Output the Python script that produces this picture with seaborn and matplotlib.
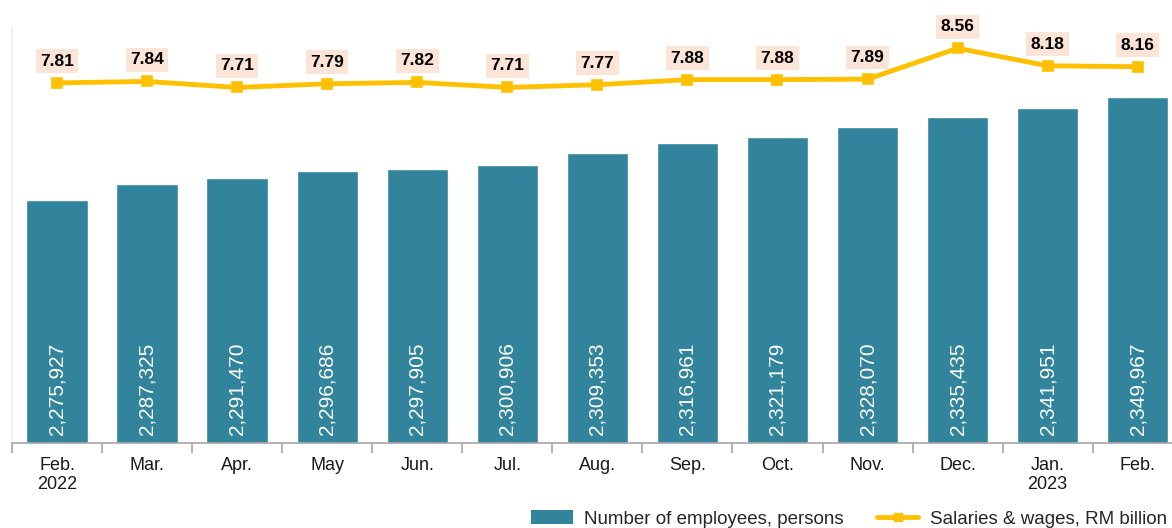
import numpy as np
import pandas as pd
import matplotlib
matplotlib.use("Agg")
import matplotlib.pyplot as plt
from matplotlib.lines import Line2D
from matplotlib.patches import Patch
import seaborn as sns

# ---- data ------------------------------------------------------------
months = ["Feb.\n2022", "Mar.", "Apr.", "May", "Jun.", "Jul.", "Aug.",
          "Sep.", "Oct.", "Nov.", "Dec.", "Jan.\n2023", "Feb."]
employees = [2275927, 2287325, 2291470, 2296686, 2297905, 2300906, 2309353,
             2316961, 2321179, 2328070, 2335435, 2341951, 2349967]
salaries = [7.81, 7.84, 7.71, 7.79, 7.82, 7.71, 7.77,
            7.88, 7.88, 7.89, 8.56, 8.18, 8.16]

BAR_COLOR = "#31849B"
LINE_COLOR = "#FFC000"
LABEL_BG = "#FCE4D6"

sns.set_theme(style="white")
plt.rcParams["font.family"] = ["Liberation Sans", "DejaVu Sans"]

df = pd.DataFrame({"month": months, "employees": employees, "salaries": salaries})

fig = plt.figure(figsize=(11.72, 5.28), dpi=100)
ax = fig.add_axes([0.0102, 0.161, 0.999, 0.786])

sns.barplot(data=df, x="month", y="employees", color=BAR_COLOR,
            width=0.68, saturation=1, ax=ax)
ax.set_ylim(2100000, 2400000)
ax.set_xlim(-0.5, 12.5)

# bar value labels, white rotated text from the base
for i, v in enumerate(employees):
    ax.text(i, 2100000 + 6000, f"{v:,}", rotation=90, ha="center", va="bottom",
            color="white", fontsize=15)

ax2 = ax.twinx()
sns.pointplot(data=df, x="month", y="salaries", color=LINE_COLOR,
              markers="s", markersize=6, linewidth=3.5, ax=ax2)
ax2.set_ylim(0, 9)
ax2.set_xlim(-0.5, 12.5)

for i, v in enumerate(salaries):
    ax2.annotate(f"{v:.2f}", (i, v), xytext=(0, 15.5), textcoords="offset points",
                 ha="center", va="center", fontsize=12.5, fontweight="bold",
                 color="black",
                 bbox=dict(boxstyle="square,pad=0.25", fc=LABEL_BG, ec="none"))

# axes cosmetics
for a in (ax, ax2):
    a.set_xlabel("")
    a.set_ylabel("")
    a.set_yticks([])
    for s in ("top", "right"):
        a.spines[s].set_visible(False)
ax2.spines["left"].set_visible(False)
ax2.spines["bottom"].set_visible(False)
ax.spines["left"].set_color("#ededed")
ax.spines["bottom"].set_color("#a6a6a6")
ax.spines["bottom"].set_linewidth(1.2)

ax.tick_params(axis="x", which="major", length=0, pad=10, labelsize=13,
               labelcolor="#1a1a1a")
ax.set_xticks(np.arange(-0.5, 13, 1), minor=True)
ax.tick_params(axis="x", which="minor", length=7, width=1.2, color="#a6a6a6",
               direction="out", bottom=True)
ax2.tick_params(axis="x", which="both", length=0, labelbottom=False)

handles = [Patch(facecolor=BAR_COLOR, edgecolor="none"),
           Line2D([0], [0], color=LINE_COLOR, lw=3.5, marker="s", markersize=6)]
fig.legend(handles, ["Number of employees, persons", "Salaries & wages, RM billion"],
           loc="center right", bbox_to_anchor=(1.01, 0.017), ncol=2, frameon=False,
           fontsize=13.5, handlelength=2.2, columnspacing=1.8, handletextpad=0.6)

fig.savefig("out.png", dpi=100)
